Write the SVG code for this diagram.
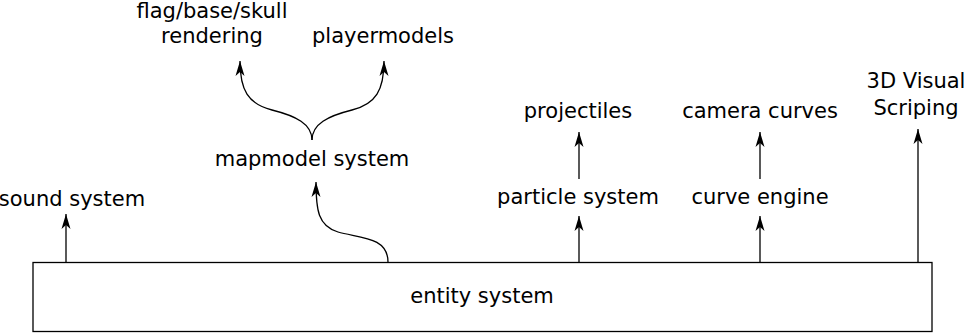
<svg xmlns="http://www.w3.org/2000/svg" width="967" height="333" viewBox="0 0 967 333">
  <style>
    text { font-family: "DejaVu Sans", Verdana, sans-serif; font-size: 21px; fill: #000; text-anchor: middle; }
    .edge { fill: none; stroke: #000; stroke-width: 1.3; marker-end: url(#arrow); }
    .box { fill: #fff; stroke: #000; stroke-width: 1.3; }
  </style>
  <defs>
    <marker id="arrow" markerUnits="userSpaceOnUse" markerWidth="18" markerHeight="12" viewBox="-16 -6 18 12" refX="0" refY="0" orient="auto">
      <path d="M0,0 L-15,-4.5 L-11,0 L-15,4.5 Z" fill="#000"/>
    </marker>
  </defs>

  <g id="entity-system">
    <rect class="box" x="33" y="262.5" width="899" height="69"/>
    <text x="482" y="303">entity system</text>
  </g>

  <g id="sound-system"><text x="72" y="206">sound system</text></g>
  <g id="mapmodel-system"><text x="312" y="166">mapmodel system</text></g>
  <g id="flag-rendering">
    <text x="212" y="18">flag/base/skull</text>
    <text x="212" y="43">rendering</text>
  </g>
  <g id="playermodels"><text x="383" y="43">playermodels</text></g>
  <g id="particle-system"><text x="578" y="204">particle system</text></g>
  <g id="projectiles"><text x="578" y="118">projectiles</text></g>
  <g id="curve-engine"><text x="760" y="204">curve engine</text></g>
  <g id="camera-curves"><text x="760" y="118">camera curves</text></g>
  <g id="visual-scripting">
    <text x="916" y="88">3D Visual</text>
    <text x="916" y="115">Scriping</text>
  </g>

  <g id="connectors">
    <path class="edge" d="M66,262 L66,214"/>
    <path class="edge" d="M388,262 C388,236 358,238 338,232 C318,226 316,210 316,182"/>
    <path class="edge" d="M312,140 C312,124 296,116 272,110 C248,104 240,90 240,61"/>
    <path class="edge" d="M312,140 C312,124 328,116 352,110 C376,104 384,90 384,61"/>
    <path class="edge" d="M579,262 L579,216"/>
    <path class="edge" d="M579,179 L579,132"/>
    <path class="edge" d="M760,262 L760,216"/>
    <path class="edge" d="M760,179 L760,132"/>
    <path class="edge" d="M918,262 L918,129"/>
  </g>
</svg>
